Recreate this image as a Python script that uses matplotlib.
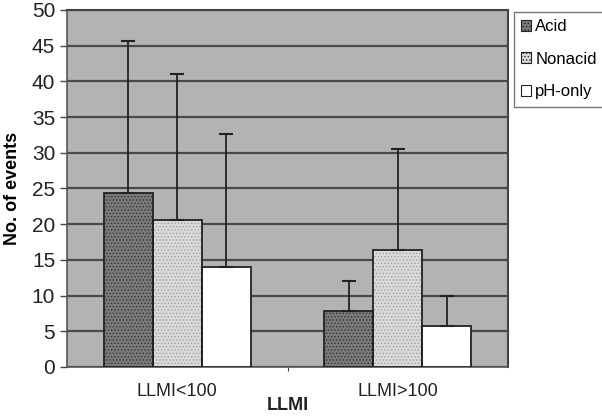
import numpy as np
import matplotlib.pyplot as plt

plt.rcParams['font.family'] = ['Liberation Sans', 'DejaVu Sans']
plt.rcParams['hatch.linewidth'] = 0.6

categories = ['LLMI<100', 'LLMI>100']
series = ['Acid', 'Nonacid', 'pH-only']
acid = [24.4, 7.9]
nonacid = [20.6, 16.4]
ph_only = [14.0, 5.8]
acid_err = [21.3, 4.1]
nonacid_err = [20.5, 14.1]
ph_only_err = [18.6, 4.2]

values = [acid, nonacid, ph_only]
errors = [acid_err, nonacid_err, ph_only_err]
faces = ['#7a7a7a', '#dadada', '#ffffff']
hatch_cols = ['#333333', '#a0a0a0', '#ffffff']
hatches = ['.....', '.....', None]

fig = plt.figure(figsize=(6.02, 4.16), dpi=100)
ax = fig.add_axes([0.1113, 0.1178, 0.7326, 0.8582])
ax.set_facecolor('#b3b3b3')

x = np.arange(len(categories))
w = 0.222
handles = []
for i, s in enumerate(series):
    pos = x + (i - 1) * w
    # hatch layer
    ax.bar(pos, values[i], w, color=faces[i], edgecolor=hatch_cols[i],
           hatch=hatches[i], linewidth=0, zorder=3)
    # outline + error bar
    ax.bar(pos, values[i], w, fill=False, edgecolor='#222222', linewidth=1.3,
           yerr=[np.zeros(len(errors[i])), errors[i]],
           error_kw=dict(ecolor='#222222', elinewidth=1.3, capsize=5, capthick=1.5),
           zorder=4)
    handles.append(plt.Rectangle((0, 0), 1, 1, facecolor=faces[i], edgecolor='#222222',
                                 hatch=hatches[i], linewidth=0.8))

ax.set_xlim(-0.5, 1.5)
ax.set_ylim(0, 50)
ax.set_yticks(range(0, 51, 5))
ax.yaxis.grid(True, color='#4a4a4a', linewidth=1.6)
ax.set_axisbelow(True)
ax.set_xticks([0.5])
ax.set_xticklabels([''])
ax.tick_params(axis='x', length=3, color='#444444')
ax.tick_params(axis='y', labelsize=15, length=5, width=1, color='#444444')
for lab in ax.get_yticklabels():
    lab.set_color('#222222')
for i, c in enumerate(categories):
    ax.text(x[i], -2.3, c, ha='center', va='top', fontsize=13, color='#222222')

for sp in ['top', 'right']:
    ax.spines[sp].set_color('#444444')
    ax.spines[sp].set_linewidth(1.5)
for sp in ['left', 'bottom']:
    ax.spines[sp].set_color('#555555')
    ax.spines[sp].set_linewidth(1.2)

ax.set_ylabel('No. of events', fontsize=13, fontweight='bold', labelpad=8)
fig.text(ax.get_position().x0 + ax.get_position().width / 2, 1 - 406 / 416, 'LLMI',
         ha='center', va='center', fontsize=13, fontweight='bold', color='#222222')

leg = fig.legend(handles, series, loc='upper left', bbox_to_anchor=(0.853, 0.972),
                 fontsize=12, frameon=True, fancybox=False, edgecolor='#555555',
                 handlelength=0.6, handleheight=0.6, handletextpad=0.25,
                 labelspacing=1.05, borderpad=0.45, borderaxespad=0)
leg.get_frame().set_linewidth(1)

plt.savefig('out.png', dpi=100)
print('saved')
